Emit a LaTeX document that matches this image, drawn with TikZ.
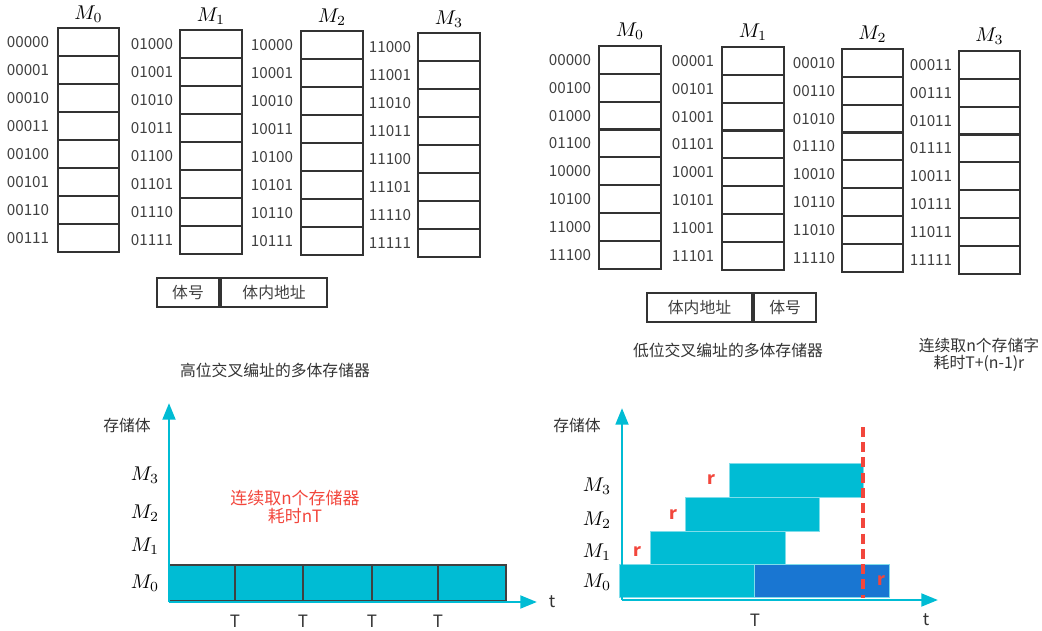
\documentclass[tikz,border=0pt]{standalone}
\usepackage{fontspec}
\setmainfont{Noto Sans CJK SC}
\usetikzlibrary{arrows.meta}
\definecolor{barcyan}{HTML}{00BCD4}
\definecolor{baredge}{HTML}{7FDDEA}
\definecolor{barblue}{HTML}{1976D2}
\definecolor{notered}{HTML}{F2463C}
\newcommand{\addrfont}{\fontsize{13}{15}\selectfont}
\newcommand{\cnfont}{\fontsize{13.5}{16}\selectfont}
\newcommand{\notefont}{\fontsize{14.5}{18}\selectfont}
\newcommand{\bankname}[1]{\scalebox{1.7}{$M_{#1}$}}
\tikzset{
  cell/.style={draw=black!80, line width=1.8pt, minimum width=18.4mm,
    minimum height=8.4mm, inner sep=0pt},
  addr/.style={font=\addrfont, text=black!75, inner sep=0pt},
  mlab/.style={inner sep=0pt},
  field/.style={draw=black!80, line width=1.8pt, minimum height=8.7mm,
    inner sep=0pt, font=\cnfont, text=black!75},
  caption/.style={font=\cnfont, text=black!80},
  axis/.style={draw=barcyan, line width=2.4pt, -{Triangle[length=5mm,width=3.8mm]}},
  slot/.style={fill=barcyan, draw=black!75, line width=1.2pt},
  band/.style={fill=barcyan, draw=baredge, line width=0.8pt},
  note/.style={font=\notefont, text=notered, align=center},
  rmark/.style={font=\notefont\bfseries, text=notered},
  tick/.style={font=\notefont, text=black!80}
}
\begin{document}
\begin{tikzpicture}[x=0.3mm, y=-0.3mm]
  \useasboundingbox (0,0) rectangle (1042,631);

  % high-order interleaving
  \foreach \b/\x/\y/\lx/\addrs in {
      0/88.5/28/28/{00000,00001,00010,00011,00100,00101,00110,00111},
      1/211/30/152/{01000,01001,01010,01011,01100,01101,01110,01111},
      2/332/31/272/{10000,10001,10010,10011,10100,10101,10110,10111},
      3/449/33/390/{11000,11001,11010,11011,11100,11101,11110,11111}} {
    \node[mlab] (hm\b) at (\x,\y-14) {\bankname{\b}};
    \foreach \a [count=\i from 0] in \addrs {
      \node[cell] (h\b-\i) at (\x,\y+14+28*\i) {};
      \node[addr] (ha\b-\i) at (\lx,\y+14+28*\i) {\a};
    }
  }
  \node[field, minimum width=18.6mm] (hnum) at (188,292.5) {体号};
  \node[field, minimum width=31.8mm, anchor=west] (hoff) at (hnum.east) {体内地址};
  \node[caption] (hcap) at (275,370) {高位交叉编址的多体存储器};

  % low-order interleaving
  \foreach \b/\x/\y/\lx/\addrs in {
      0/630/46/570/{00000,00100,01000,01100,10000,10100,11000,11100},
      1/753/47/693/{00001,00101,01001,01101,10001,10101,11001,11101},
      2/872.5/49/814/{00010,00110,01010,01110,10010,10110,11010,11110},
      3/989.5/51/931/{00011,00111,01011,01111,10011,10111,11011,11111}} {
    \node[mlab] (lm\b) at (\x,\y-15) {\bankname{\b}};
    \foreach \a [count=\i from 0] in \addrs {
      \node[cell] (l\b-\i) at (\x,\y+14+27.8*\i) {};
      \node[addr] (la\b-\i) at (\lx,\y+14+27.8*\i) {\a};
    }
  }
  \node[field, minimum width=31.5mm] (loff) at (699.5,307.5) {体内地址};
  \node[field, minimum width=18.6mm, anchor=west] (lnum) at (loff.east) {体号};
  \node[caption] (lcap) at (728,350) {低位交叉编址的多体存储器};
  \node[caption, align=center] (lnote) at (979,355) {连续取n个存储字\\[-2pt]耗时T+(n-1)r};

  % sequential timing
  \coordinate (so) at (169,602);
  \coordinate (sy) at (169,403);
  \coordinate (sx) at (537,602);
  \foreach \a/\b in {169/235,235/303,303/372,372/438,438/506}
    \draw[slot] (\a,565) rectangle (\b,601);
  \draw[axis] (so) -- (sy);
  \draw[axis] (so) -- (sx);
  \node[caption] (sbank) at (127,425) {存储体};
  \foreach \m/\y in {0/583,1/546,2/513,3/475}
    \node[mlab] (sm\m) at (145,\y) {\bankname{\m}};
  \foreach \x [count=\k] in {235,303,372,438}
    \node[tick] (sT\k) at (\x,621) {T};
  \node[tick] (st) at (552,602) {t};
  \node[note] (snote) at (295,507) {连续取n个存储器\\[-3pt]耗时nT};

  % pipelined timing
  \coordinate (po) at (622,600);
  \coordinate (py) at (622,408);
  \coordinate (px) at (938,600);
  \draw[band] (619,564) rectangle (754,597);
  \draw[band, fill=barblue] (754,564) rectangle (889,597);
  \draw[band] (650,531) rectangle (785,564);
  \draw[band] (685,497) rectangle (819,531);
  \draw[band] (729,463) rectangle (863,497);
  \draw[axis] (po) -- (py);
  \draw[axis] (po) -- (px);
  \coordinate (dtop) at (863,427);
  \coordinate (dbot) at (863,598);
  \draw[notered, line width=2.8pt, dash pattern=on 8.5pt off 4.5pt] (dtop) -- (dbot);
  \node[caption] (pbank) at (577,425) {存储体};
  \foreach \m/\y in {0/582,1/552,2/520,3/486}
    \node[mlab] (pm\m) at (597,\y) {\bankname{\m}};
  \node[rmark] (r1) at (637,552) {r};
  \node[rmark] (r2) at (673,515) {r};
  \node[rmark] (r3) at (711,480) {r};
  \node[rmark] (r4) at (881,581) {r};
  \node[tick] (pT) at (755,620) {T};
  \node[tick] (pt) at (926,620) {t};
\end{tikzpicture}
\end{document}
